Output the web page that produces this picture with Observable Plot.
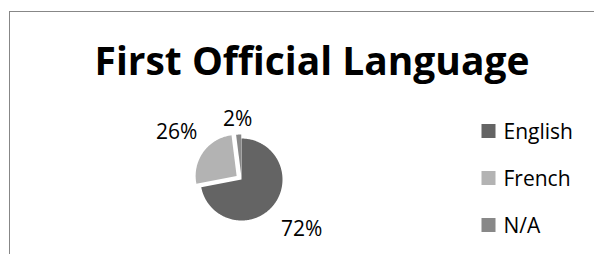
<!DOCTYPE html>
<html><head><meta charset="utf-8">
<script src="https://cdn.jsdelivr.net/npm/d3@7"></script>
<script src="https://cdn.jsdelivr.net/npm/@observablehq/plot@0.6"></script>
<style>
html,body{margin:0;padding:0;background:#fff;}
#wrap{position:relative;width:594px;height:254px;overflow:hidden;background:#fff;}
#frame{position:absolute;left:9px;top:11px;width:1000px;height:1000px;border-left:1.5px solid #878787;border-top:1.5px solid #878787;}
#chart{position:absolute;left:0;top:0;}
</style></head><body>
<div id="wrap"><div id="frame"></div><div id="chart"></div></div>
<script>
const title = "First Official Language";
const categories = ["English", "French", "N/A"];
const values = [72, 26, 2];
const labels = ["72%", "26%", "2%"];
const colors = ["#646464", "#b3b3b3", "#888888"];

const W = 594, H = 254;
const pie = {cx: 241, cy: 179, r: 41, explode: [0, 6, 4], labelR: [78, 80, 60]};
const legend = {x: 481.5, size: 14, textX: 503, baseline0: 138, step: 47};
const titlePos = {x: 311.5, baseline: 74, width: 435};
const font = "'Open Sans', sans-serif";

const arcs = d3.pie().sort(null).value(d => d)(values);
const toXY = (a, r, ox, oy) => [ox + r * Math.sin(a), oy - r * Math.cos(a)];
const slicePts = [];
const labelPts = [];
arcs.forEach((a, i) => {
  const mid = (a.startAngle + a.endAngle) / 2;
  const [ox, oy] = toXY(mid, pie.explode[i], pie.cx, pie.cy);
  slicePts.push({cat: categories[i], x: ox, y: oy});
  const n = Math.max(4, Math.ceil((a.endAngle - a.startAngle) / 0.02));
  for (let k = 0; k <= n; k++) {
    const t = a.startAngle + (a.endAngle - a.startAngle) * k / n;
    const [x, y] = toXY(t, pie.r, ox, oy);
    slicePts.push({cat: categories[i], x, y});
  }
  const [lx, ly] = toXY(mid, pie.labelR[i], pie.cx, pie.cy);
  labelPts.push({text: labels[i], x: lx, y: ly});
});

const chart = Plot.plot({
  width: W, height: H, margin: 0,
  x: {domain: [0, W], range: [0, W], axis: null},
  y: {domain: [0, H], range: [0, H], axis: null},
  color: {domain: categories, range: colors},
  style: {background: "transparent", fontFamily: font},
  marks: [
    Plot.line(slicePts, {x: "x", y: "y", z: "cat", fill: "cat", stroke: "none", curve: "linear-closed"}),
    Plot.text(labelPts, {x: "x", y: "y", text: "text", fontSize: 21, textAnchor: "middle", lineAnchor: "middle", fill: "#000"}),
    Plot.rect(categories, {
      x1: () => legend.x, x2: () => legend.x + legend.size,
      y1: (d, i) => legend.baseline0 + i * legend.step - legend.size,
      y2: (d, i) => legend.baseline0 + i * legend.step,
      fill: d => d
    }),
    Plot.text(categories, {
      x: () => legend.textX, y: (d, i) => legend.baseline0 + i * legend.step,
      text: d => d, fontSize: 21, textAnchor: "start", lineAnchor: "bottom", fill: "#000"
    }),
    Plot.text([title], {x: () => titlePos.x, y: () => titlePos.baseline, text: d => d,
      fontSize: 34, fontWeight: "bold", textAnchor: "middle", lineAnchor: "bottom", fill: "#000", className: "title"})
  ]
});
document.getElementById("chart").appendChild(chart);
// fit title width to reference
const t = chart.querySelector(".title text");
if (t) {
  const w = t.getComputedTextLength();
  if (w > 0) t.setAttribute("font-size", (34 * titlePos.width / w).toFixed(2));
}
</script>
</body></html>
